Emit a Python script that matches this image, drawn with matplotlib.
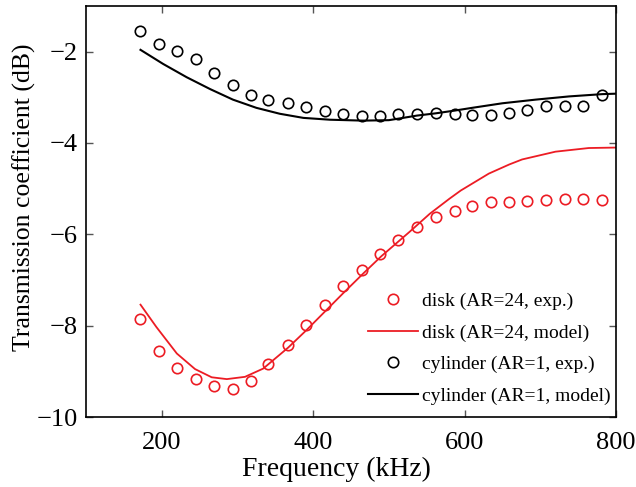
import numpy as np
import matplotlib
matplotlib.use("Agg")
import matplotlib.pyplot as plt

plt.rcParams['font.family'] = ['Liberation Serif', 'DejaVu Serif']

# measured points (kHz, dB)
freq_exp = [171, 196, 220, 245, 269, 294, 318, 341, 367, 391, 415, 439, 464,
            488, 512, 537, 562, 587, 610, 635, 658, 683, 708, 733, 757, 781]
disk_exp = [-7.86, -8.56, -8.93, -9.17, -9.32, -9.39, -9.21, -8.84, -8.42,
            -7.99, -7.54, -7.14, -6.77, -6.44, -6.13, -5.84, -5.63, -5.49,
            -5.39, -5.30, -5.30, -5.27, -5.24, -5.22, -5.23, -5.25]
cyl_exp = [-1.54, -1.84, -1.98, -2.17, -2.47, -2.74, -2.95, -3.06, -3.13,
           -3.22, -3.30, -3.36, -3.40, -3.40, -3.37, -3.36, -3.35, -3.37,
           -3.38, -3.38, -3.35, -3.27, -3.18, -3.20, -3.18, -2.95]

# model curves
freq_disk_mod = [172, 193, 220, 244, 266, 286, 310, 334, 367, 391, 415, 439,
                 466, 490, 527, 554, 580, 595, 606, 632, 659, 676, 720, 764, 800]
disk_mod = [-7.54, -8.03, -8.61, -8.95, -9.13, -9.17, -9.12, -8.94, -8.48,
            -8.10, -7.70, -7.30, -6.86, -6.48, -5.95, -5.55, -5.22, -5.04,
            -4.93, -4.67, -4.47, -4.36, -4.19, -4.11, -4.10]
freq_cyl_mod = [172, 202, 233, 264, 294, 325, 356, 387, 422, 466, 500, 515,
                537, 562, 587, 610, 650, 694, 738, 782, 800]
cyl_mod = [-1.96, -2.27, -2.56, -2.82, -3.05, -3.23, -3.36, -3.45, -3.49,
           -3.51, -3.50, -3.46, -3.40, -3.35, -3.29, -3.23, -3.13, -3.05,
           -2.98, -2.93, -2.92]

red = '#ec1c24'

fig = plt.figure(figsize=(6.36, 4.87), dpi=100)
ax = fig.add_axes([0.1352, 0.1437, 0.8334, 0.844])

ax.plot(freq_exp, disk_exp, 'o', mfc='none', mec=red, ms=7.5, mew=1.2,
        label='disk (AR=24, exp.)')
ax.plot(freq_disk_mod, disk_mod, '-', color=red, lw=1.3,
        label='disk (AR=24, model)')
ax.plot(freq_exp, cyl_exp, 'o', mfc='none', mec='black', ms=7.5, mew=1.2,
        label='cylinder (AR=1, exp.)')
ax.plot(freq_cyl_mod, cyl_mod, '-', color='black', lw=1.5,
        label='cylinder (AR=1, model)')

ax.set_xlim(100, 800)
ax.set_ylim(-10, -1)
ax.set_xticks([200, 400, 600, 800])
ax.set_yticks([-10, -8, -6, -4, -2])
ax.tick_params(direction='in', top=True, right=True, length=5, width=1,
               color='#555555', labelsize=19)
ax.tick_params(axis='x', pad=11)
ax.tick_params(axis='y', pad=6)
for s in ax.spines.values():
    s.set_linewidth(1.2)

ax.set_xlabel('Frequency (kHz)', fontsize=20, labelpad=2)
ax.set_ylabel('Transmission coefficient (dB)', fontsize=18.5, labelpad=0.6)
ax.xaxis.label.set_x(0.472)
ax.yaxis.label.set_y(0.535)

ax.legend(loc='lower right', frameon=False, fontsize=14, handlelength=2.6,
          handletextpad=0.2, labelspacing=0.71, borderpad=0, borderaxespad=0,
          bbox_to_anchor=(0.99, 0.03))

fig.savefig('out.png', dpi=100)
